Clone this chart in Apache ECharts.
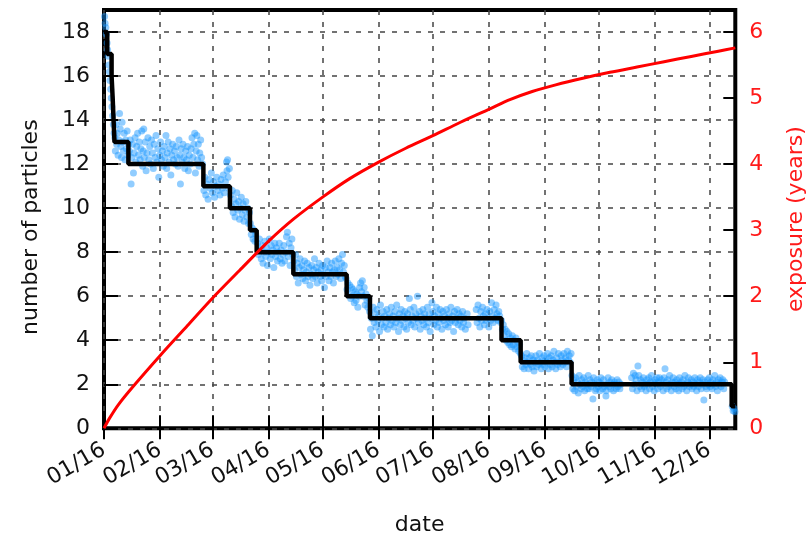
<!DOCTYPE html>
<html><head><meta charset="utf-8">
<script src="https://cdn.jsdelivr.net/npm/echarts@6/dist/echarts.min.js"></script>
<style>html,body{margin:0;padding:0;background:#fff}#c{width:806px;height:540px}</style>
</head><body><div id="c"></div>
<script>
// days since 2016-01-01
const tickDays = [0,31,60,91,121,152,182,213,244,274,305,335];
const tickLabels = ['01/16','02/16','03/16','04/16','05/16','06/16','07/16','08/16','09/16','10/16','11/16','12/16'];
const X_MAX = 349.4;
const leftTicks = [0,2,4,6,8,10,12,14,16,18];
const rightTicks = [0,1,2,3,4,5,6];

const stepDays   = [0,1.8,4.2,4.8,5.3,5.8,13.5,55,69.7,80.8,84.5,104.8,134.3,147.2,220,230.6,258.8,347.4,349.4];
const stepCounts = [18,17,16,15,14,13,12,11,10,9,8,7,6,5,4,3,2,1,1];

const exposureDays  = [0,3,8,16,31,46,60,75,91,105,121,136,152,167,182,197,213,225,237,250,265,280,295,310,325,340,349.4];
const exposureYears = [0,0.15,0.36,0.63,1.10,1.55,1.97,2.39,2.83,3.17,3.50,3.78,4.03,4.24,4.43,4.63,4.83,4.98,5.10,5.20,5.30,5.39,5.47,5.55,5.63,5.71,5.76];

const dots = [
[0.3,18.7],[0.6,18.4],[1,18.2],[1.3,17.9],[1.7,17.5],[2,17.2],[2.3,16.9],[2.7,16.5],[3,16.2],[3.3,15.8],[3.7,15.4],[4,15.0],[4.4,14.6],[4.8,14.2],[5.2,13.8],[5.6,13.4],
[6,13.2],[6.3,12.6],[6.7,13.8],[7,12.9],[7.4,13.4],[7.8,12.4],[8.2,13.1],[8.6,14.3],[9,13.6],[9.3,12.8],[9.7,12.3],[10,13.9],[10.4,13.0],[10.8,12.6],[11.2,13.4],[11.6,12.2],[12,13.1],[12.4,12.7],[12.8,13.5],[13.2,12.4],[13.6,12.9],
[14,12.6],[14.5,13.1],[15,11.1],[15.3,12.3],[15.8,12.9],[16.3,11.6],[16.7,12.5],[17.2,13.2],[17.6,12.1],[18.1,12.8],[18.6,13.4],[19,12.4],[19.5,13.0],[20,12.2],[20.4,12.7],[20.9,13.5],[21.4,11.9],[21.7,12.6],[22,13.6],[22.3,12.3],[22.8,13.0],[23.3,11.7],[23.8,12.5],[24.3,13.2],[24.8,12.2],[25.3,12.8],[25.8,12.0],[26.3,13.1],[26.8,12.5],[27.3,11.8],[27.8,12.9],[28.3,12.3],[28.8,13.3],[29.3,12.1],[29.8,12.7],[30.3,11.4],[30.8,12.4],[31.3,13.0],[31.8,12.2],[32.3,12.6],[32.8,11.9],[33.3,12.8],[33.8,12.3],[34.3,13.3],[34.7,11.8],[35,12.5],[35.5,13.0],[36,12.1],[36.5,12.7],[37,11.5],[37.5,12.4],[38,12.9],[38.5,12.2],[39,12.6],[39.5,12.0],[40,12.8],[40.5,12.3],[41,11.9],[41.5,13.1],[42,12.4],[42.3,11.1],[42.7,12.7],[43.2,12.1],[43.7,12.9],[44.2,12.3],[44.7,11.8],[45.2,12.6],[45.7,12.2],[46.2,12.8],[46.7,11.7],[47.2,12.4],[47.7,12.0],[48.2,12.7],[48.7,13.2],[49.2,12.3],[49.7,12.9],[50.2,13.4],[50.6,11.6],[51,12.6],[51.4,13.3],[51.8,12.2],[52.2,12.9],[52.6,11.9],[53,12.5],[53.5,13.1],[54,12.3],[54.5,12.0],
[55.3,10.8],[55.8,11.4],[56.3,10.6],[57,11.1],[57.6,10.4],[58.2,11.3],[58.8,10.9],[59.4,11.6],[60,10.7],[60.6,11.2],[61.2,10.5],[61.8,11.0],[62.4,11.4],[63,10.8],[63.6,11.1],[64.2,10.6],[64.8,11.3],[65.4,10.9],[66,11.5],[66.6,10.7],[67.2,11.2],[67.8,12.1],[68.1,11.7],[68.4,12.2],[68.7,11.4],[69,10.9],[69.4,11.8],
[70,10.6],[70.5,10.1],[71,10.8],[71.5,9.8],[72,10.4],[72.5,9.6],[73,10.2],[73.5,10.7],[74,9.9],[74.5,10.3],[75,9.5],[75.5,10.0],[76,10.5],[76.5,9.7],[77,10.2],[77.5,9.4],[78,9.9],[78.5,10.3],[79,9.6],[79.5,10.0],[80,9.3],[80.5,9.8],
[81,9.3],[81.5,8.8],[82,9.1],[82.5,8.6],[83,9.0],[83.5,8.5],[84,8.8],
[85,8.4],[85.5,7.9],[86,8.6],[86.5,8.1],[87,7.7],[87.5,8.3],[88,7.5],[88.5,8.0],[89,8.5],[89.5,7.8],[90,8.2],[90.5,7.4],[91,8.0],[91.5,8.6],[92,7.7],[92.5,8.3],[93,7.9],[93.5,8.1],[94,7.3],[94.5,8.4],[95,7.8],[95.5,8.2],[96,7.6],[96.5,8.0],[97,8.4],[97.5,7.7],[98,8.1],[98.5,7.5],[99,7.9],[99.5,8.3],[100,7.6],[100.5,8.0],[101,8.7],[101.5,8.9],[102,7.8],[102.5,8.4],[103,7.4],[103.5,8.2],[104,8.6],[104.5,7.9],
[105,7.6],[105.5,7.2],[106,7.9],[106.5,6.9],[107,7.5],[107.5,6.6],[108,7.3],[108.5,7.7],[109,7.0],[109.5,7.4],[110,6.8],[110.5,7.2],[111,7.6],[111.5,6.7],[112,7.1],[112.5,7.5],[113,6.9],[113.5,7.3],[114,6.5],[114.5,7.0],[115,7.4],[115.5,6.8],[116,7.2],[116.5,7.7],[117,6.9],[117.5,7.3],[118,6.6],[118.5,7.1],[119,7.5],[119.5,6.9],[120,7.2],[120.5,6.7],[121,7.4],[121.5,7.0],[122,6.4],[122.5,7.3],[123,6.9],[123.5,7.6],[124,7.1],[124.5,6.7],[125,7.3],[125.5,6.9],[126,7.5],[126.5,7.1],[127,6.6],[127.5,7.2],[128,7.6],[128.5,6.9],[129,7.3],[129.5,7.0],[130,7.7],[130.5,7.2],[131,6.8],[131.5,7.5],[132,7.9],[132.5,7.1],[133,7.4],[133.5,6.9],
[134,6.8],[134.5,6.3],[135,6.6],[135.5,6.1],[136,6.5],[136.5,5.9],[137,6.4],[137.5,6.0],[138,6.3],[138.5,5.7],[139,6.2],[139.5,5.8],[140,6.1],[140.5,5.5],[141,6.0],[141.5,6.4],[142,6.6],[142.5,6.2],[143,6.7],[143.5,6.0],[144,6.4],[144.5,5.6],[145,6.1],[145.5,5.8],[146,5.5],[146.5,5.9],
[147,5.3],[147.5,4.5],[148,5.0],[148.5,4.2],[149,5.5],[149.5,4.8],[150,5.2],[150.5,4.6],[151,5.4],[151.5,4.9],[152,5.1],[152.5,4.4],[153,5.6],[153.5,4.7],[154,5.0],[154.5,5.3],[155,4.6],[155.5,5.1],[156,4.8],[156.5,5.4],[157,4.5],[157.5,5.0],[158,5.2],[158.5,4.7],[159,5.5],[159.5,4.9],[160,5.1],[160.5,4.6],[161,5.3],[161.5,4.8],[162,5.6],[162.5,5.0],[163,4.4],[163.5,5.2],[164,4.7],[164.5,5.4],[165,4.9],[165.5,5.1],[166,4.6],[166.5,5.3],[167,5.0],[167.5,4.5],[168,5.2],[168.5,4.8],[169,5.9],[169.5,5.4],[170,4.7],[170.5,5.1],[171,4.9],[171.5,5.5],[172,4.6],[172.5,5.2],[173,5.0],[173.5,6.0],[174,4.8],[174.5,5.3],[175,4.5],[175.5,5.1],[176,4.9],[176.5,5.4],[177,4.7],[177.5,5.2],[178,5.0],[178.5,4.6],[179,5.5],[179.5,4.8],[180,5.2],[180.5,4.4],[181,5.0],[181.5,5.7],[182,5.3],[182.5,4.7],[183,5.1],[183.5,4.9],[184,5.5],[184.5,4.6],[185,5.2],[185.5,4.8],[186,5.4],[186.5,5.0],[187,4.5],[187.5,5.3],[188,4.9],[188.5,5.1],[189,4.7],[189.5,5.4],[190,5.0],[190.5,4.6],[191,5.2],[191.5,4.8],[192,5.5],[192.5,4.9],[193,5.1],[193.5,4.4],[194,5.3],[194.5,4.8],[195,5.0],[195.5,5.4],[196,4.7],[196.5,5.2],[197,4.9],[197.5,5.1],[198,4.6],[198.5,5.3],[199,4.8],[199.5,5.0],[200,4.5],[201,5.2],[201.5,4.7],
[206,5.4],[206.5,4.8],[207,5.6],[207.5,5.0],[208,4.6],[208.5,5.3],[209,4.9],[209.5,5.5],[210,5.1],[210.5,4.7],[211,5.2],[211.5,4.9],[212,5.4],[212.5,5.0],[213,4.6],[213.5,5.3],[214,4.9],[214.5,5.7],[215,5.1],[215.5,4.8],[216,5.4],[216.5,5.0],[217,5.6],[217.5,5.2],[218,4.9],[218.5,5.3],[219,5.1],[219.5,4.8],
[220,4.9],[220.5,4.5],[221,4.7],[221.5,4.2],[222,4.5],[222.5,4.0],[223,4.4],[223.5,3.9],[224,4.3],[224.5,3.8],[225,4.1],[225.5,3.7],[226,4.2],[226.5,3.8],[227,4.0],[227.5,3.6],[228,4.1],[228.5,3.7],[229,3.9],[229.5,3.5],[230,3.8],[230.5,3.4],
[231,3.3],[231.5,2.8],[232,3.1],[232.5,2.7],[233,3.2],[233.5,2.9],[234,3.4],[234.5,3.0],[235,2.7],[235.5,3.2],[236,2.9],[236.5,3.3],[237,2.8],[237.5,3.1],[238,2.6],[238.5,3.0],[239,3.3],[239.5,2.8],[240,3.1],[240.5,2.9],[241,3.4],[241.5,3.0],[242,2.7],[242.5,3.2],[243,2.9],[243.5,3.3],[244,2.8],[244.5,3.1],[245,3.0],[245.5,3.4],[246,2.7],[246.5,3.2],[247,2.9],[247.5,3.3],[248,2.8],[248.5,3.1],[249,3.5],[249.5,3.0],[250,2.7],[250.5,3.2],[251,2.9],[251.5,3.4],[252,3.0],[252.5,2.8],[253,3.3],[253.5,3.1],[254,2.9],[254.5,3.4],[255,3.0],[255.5,3.2],[256,2.8],[256.5,3.5],[257,3.1],[257.5,3.3],[258,3.0],[258.5,3.4],
[259,2.4],[259.5,1.8],[260,2.2],[260.5,1.7],[261,2.3],[261.5,1.9],[262,2.1],[262.5,1.6],[263,2.4],[263.5,2.0],[264,1.8],[264.5,2.2],[265,1.9],[265.5,2.3],[266,1.7],[266.5,2.1],[267,2.0],[267.5,1.8],[268,2.4],[268.5,1.8],[269,2.2],[269.5,1.9],[270,2.1],[270.6,1.33],[271,2.3],[271.5,2.0],[272,1.7],[272.5,1.8],[273,2.2],[273.5,1.9],[274,2.1],[274.5,1.7],[275,2.3],[275.5,2.0],[276,1.8],[276.5,2.2],[277,1.9],[277.8,1.47],[278,1.7],[278.5,2.0],[279,2.3],[279.5,1.9],[280,2.1],[280.5,1.8],[281,2.2],[281.5,2.0],[282,1.7],[282.5,2.1],[283,2.0],[283.5,1.8],[284,2.2],[284.5,1.9],[285,2.1],[285.5,1.8],[286,2.0],
[292,2.3],[292.5,1.8],[293,2.5],[293.5,2.0],[294,2.4],[294.5,2.2],[295,1.7],[295.5,2.83],[296,2.4],[296.5,1.9],[297,2.2],[297.5,1.8],[298,2.1],[298.5,2.3],[299,1.9],[299.5,2.0],[300,1.7],[300.5,2.2],[301,2.0],[301.5,2.3],[302,1.8],[302.5,2.1],[303,2.4],[303.5,1.9],[304,2.1],[304.5,1.7],[305,2.2],[305.5,2.0],[306,2.3],[306.5,1.8],[307,2.1],[307.5,2.3],[308,1.9],[308.5,2.2],[309,2.0],[309.5,1.7],[310,2.3],[310.5,2.7],[311,2.1],[311.5,1.8],[312,2.2],[312.5,1.9],[313,2.4],[313.5,2.0],[314,1.7],[314.5,2.1],[315,2.3],[315.5,1.9],[316,2.1],[316.5,1.8],[317,2.2],[317.5,2.0],[318,1.7],[318.5,2.3],[319,2.0],[319.5,2.1],[320,1.8],[320.5,2.2],[321,1.9],[321.5,2.4],[322,2.0],[322.5,1.7],[323,2.1],[323.5,2.3],[324,1.9],[324.5,2.0],[325,2.2],[325.5,1.8],[326,2.1],[326.5,1.9],[327,2.3],[327.5,2.0],[328,1.7],[328.5,2.2],[329,1.9],[329.5,2.1],[330,2.3],[330.5,1.8],[331,2.0],[331.5,2.2],[332,1.29],[332.5,2.1],[333,1.9],[333.5,1.8],[334,2.2],[334.5,2.0],[335,2.3],[335.5,1.9],[336,2.1],[336.5,1.8],[337,2.2],[337.5,2.0],[338,2.4],[338.5,1.9],[339,2.1],[339.5,1.7],[340,2.2],[340.5,2.0],[341,2.3],[341.5,1.9],[342,2.1],[342.5,2.2],[343,1.8],[343.5,2.1],
[347.7,1.0],[348.2,0.8],[348.7,0.9],[349.2,0.75]
];

const FONT = 'DejaVu Sans';
const TXT = '#111';
const RED = '#ff1a1a';
const FS = 22;
const GRIDLINE = {show:true, lineStyle:{type:[5,7], color:'#444', width:1.5}};
const rightTickLeftUnits = rightTicks.filter(v => v > 0).map(v => v * 3);

const chart = echarts.init(document.getElementById('c'), null, {renderer:'canvas'});
chart.setOption({
  animation:false,
  backgroundColor:'#fff',
  textStyle:{fontFamily:FONT},
  grid:{left:104, right:70.7, top:10, bottom:111.7, containLabel:false, outerBoundsMode:'none',
        show:true, borderColor:'#000', borderWidth:4, backgroundColor:'transparent'},
  xAxis:[{
    type:'value', min:0, max:X_MAX, position:'bottom',
    axisLine:{show:false},
    axisTick:{show:true, inside:true, length:13, lineStyle:{color:'#000', width:2}, customValues:tickDays},
    axisLabel:{customValues:tickDays, formatter:v=>tickLabels[tickDays.indexOf(v)], rotate:30, margin:20, fontSize:FS, color:TXT, fontFamily:FONT},
    splitLine:GRIDLINE,
    name:'date', nameLocation:'middle', nameGap:86, nameTextStyle:{fontSize:FS, color:TXT, fontFamily:FONT}
  },{
    type:'value', min:0, max:X_MAX, position:'top',
    axisLine:{show:false},
    axisTick:{show:true, inside:true, length:11, lineStyle:{color:'#000', width:2}, customValues:tickDays},
    axisLabel:{show:false}, splitLine:{show:false}
  }],
  yAxis:[{
    type:'value', min:0, max:19, interval:2, position:'left',
    axisLine:{show:false},
    axisTick:{show:true, inside:true, length:14, lineStyle:{color:'#000', width:2}, customValues:leftTicks},
    axisLabel:{margin:14, fontSize:FS, color:TXT, fontFamily:FONT, customValues:leftTicks},
    splitLine:GRIDLINE,
    name:'number of particles', nameLocation:'middle', nameGap:62, nameRotate:90,
    nameTextStyle:{fontSize:FS, color:TXT, fontFamily:FONT, padding:[0,16,0,0]}
  },{
    type:'value', min:0, max:19/3, interval:1, position:'right',
    axisLine:{show:false},
    axisTick:{show:false},
    axisLabel:{margin:14, fontSize:FS, color:RED, fontFamily:FONT, customValues:rightTicks},
    splitLine:{show:false},
    name:'exposure (years)', nameLocation:'middle', nameGap:50, nameRotate:90,
    nameTextStyle:{fontSize:FS, color:RED, fontFamily:FONT}
  },{
    type:'value', min:0, max:19, position:'right',
    axisLine:{show:false},
    axisTick:{show:true, inside:true, length:12, lineStyle:{color:'#000', width:2}, customValues:rightTickLeftUnits},
    axisLabel:{show:false}, splitLine:{show:false}
  }],
  series:[{
    type:'scatter', xAxisIndex:0, yAxisIndex:0, data:dots, symbolSize:7, z:2,
    itemStyle:{color:'rgba(25,150,255,0.6)'}
  },{
    type:'line', xAxisIndex:0, yAxisIndex:0, step:'end', showSymbol:false, z:3,
    data:stepDays.map((d,i)=>[d,stepCounts[i]]),
    lineStyle:{color:'#000', width:4.5}
  },{
    type:'line', xAxisIndex:0, yAxisIndex:1, showSymbol:false, smooth:0.3, z:4,
    data:exposureDays.map((d,i)=>[d,exposureYears[i]]),
    lineStyle:{color:'#ff0000', width:3}
  }]
});
</script></body></html>
